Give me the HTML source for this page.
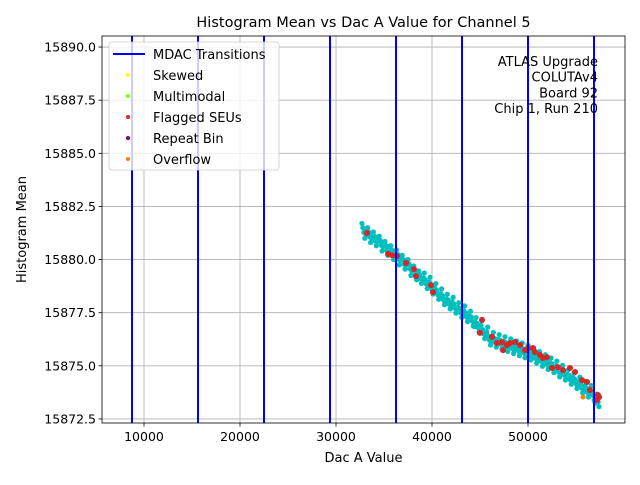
<!DOCTYPE html>
<html><head><meta charset="utf-8"><style>
body{margin:0;background:#fff;font-family:"Liberation Sans","DejaVu Sans",sans-serif}
svg text{font-family:"DejaVu Sans","Liberation Sans",sans-serif}
</style></head><body>
<svg id="c" width="640" height="480" xmlns="http://www.w3.org/2000/svg"></svg>
<script>
const xTicks=[10000,20000,30000,40000,50000];
const yTicks=[15872.5,15875.0,15877.5,15880.0,15882.5,15885.0,15887.5,15890.0];
const mdacX=[8750,15625,22500,29375,36250,43125,50000,56875];
const cyanX=[32800,33100,33400,33700,34000,34300,34600,34900,35200,35500,35800,36100,36400,36700,37000,37300,37600,37900,38200,38500,38800,39100,39400,39700,40000,40300,40600,40900,41200,41500,41800,42100,42400,42700,43000,43300,43600,43900,44200,44500,44800,45100,45400,45700,46000,46300,46600,46900,47200,47500,47800,48100,48400,48700,49000,49300,49600,49900,50200,50500,50800,51100,51400,51700,52000,52300,52600,52900,53200,53500,53800,54100,54400,54700,55000,55300,55600,55900,56200,56500,56800,57100,57300];
const cyanY=[15881.5,15881.2,15881.3,15881.0,15881.1,15880.85,15880.9,15880.6,15880.65,15880.4,15880.45,15880.2,15880.25,15879.95,15880.0,15879.75,15879.8,15879.45,15879.5,15879.25,15879.1,15879.15,15878.85,15878.95,15878.6,15878.65,15878.35,15878.4,15878.1,15878.15,15877.9,15878.0,15877.7,15877.75,15877.5,15877.6,15877.3,15877.35,15877.1,15877.05,15876.8,15876.9,15876.5,15876.6,15876.2,15876.35,15876.1,15876.25,15876.0,15876.15,15875.9,15876.05,15875.8,15875.95,15875.7,15875.85,15875.6,15875.75,15875.5,15875.6,15875.35,15875.45,15875.2,15875.3,15875.05,15875.15,15874.9,15875.0,15874.7,15874.8,15874.55,15874.6,15874.35,15874.45,15874.15,15874.25,15873.95,15874.05,15873.75,15873.85,15873.6,15873.45,15873.3];
const redX=[33230,35420,35830,36350,37290,38125,38330,39900,40100,45210,45000,46250,46770,47290,47400,47810,48125,48650,49170,49690,50000,50520,50730,51250,51980,51560,52500,53125,53650,54375,54900,55625,56150,56460,57290,57400,57190];
const redY=[15881.25,15880.26,15880.21,15880.16,15879.84,15879.55,15879.22,15878.8,15878.47,15877.16,15876.55,15876.36,15876.07,15876.12,15875.74,15875.98,15876.07,15876.12,15875.98,15875.74,15875.84,15875.84,15875.65,15875.51,15875.41,15875.37,15874.9,15874.94,15874.8,15874.9,15874.71,15874.33,15874.24,15873.86,15873.63,15873.53,15873.39];
const orangeX=[55730];
const orangeY=[15873.53];
const L=102,R=625,T=36,B=423;
const x0=5625,x1=60104,y0=15872.31,y1=15890.52;
const sx=v=>L+(v-x0)/(x1-x0)*(R-L);
const sy=v=>B-(v-y0)/(y1-y0)*(B-T);
const svg=document.getElementById('c');
const NS='http://www.w3.org/2000/svg';
function mk(tag,attrs,txt){const e=document.createElementNS(NS,tag);for(const k in attrs)e.setAttribute(k,attrs[k]);if(txt!==undefined)e.textContent=txt;svg.appendChild(e);return e;}
xTicks.forEach(v=>{const g=mk('line',{x1:sx(v),x2:sx(v),y1:T,y2:B,stroke:'#b0b0b0','stroke-width':0.8});


const t=mk('line',{x1:sx(v),x2:sx(v),y1:B,y2:B+3.5,stroke:'#000','stroke-width':0.8});


const l=mk('text',{x:sx(v),y:B+18,'font-size':12.5,'text-anchor':'middle'},String(v));

});
yTicks.forEach(v=>{const g=mk('line',{x1:L,x2:R,y1:sy(v),y2:sy(v),stroke:'#b0b0b0','stroke-width':0.8});


const t=mk('line',{x1:L-3.5,x2:L,y1:sy(v),y2:sy(v),stroke:'#000','stroke-width':0.8});


const l=mk('text',{x:L-6,y:sy(v)+4.5,'font-size':12.5,'text-anchor':'end'},v.toFixed(1));

});
cyanX.forEach((v,i)=>{const s=(i%2?1:-1);
const c=mk('circle',{cx:sx(v),cy:sy(cyanY[i]),r:2.6,fill:'#00bfbf'});


const c2=mk('circle',{cx:sx(v+100),cy:sy(cyanY[i]+0.22*s),r:2.6,fill:'#00bfbf'});


const c3=mk('circle',{cx:sx(v-100),cy:sy(cyanY[i]-0.2*s),r:2.6,fill:'#00bfbf'});

});
redX.forEach((v,i)=>{const c=mk('circle',{cx:sx(v),cy:sy(redY[i]),r:3,fill:'#d62728'});

});
orangeX.forEach((v,i)=>{const c=mk('circle',{cx:sx(v),cy:sy(orangeY[i]),r:2.5,fill:'#ff7f0e'});

});
mdacX.forEach(v=>{const l=mk('line',{x1:sx(v),x2:sx(v),y1:T,y2:B,stroke:'#0000ff','stroke-width':2});

});
const fr=mk('rect',{x:L,y:T,width:R-L,height:B-T,fill:'none',stroke:'#000','stroke-width':0.8});


const ti=mk('text',{x:(L+R)/2,y:27,'font-size':14.5,'text-anchor':'middle'},'Histogram Mean vs Dac A Value for Channel 5');


const xt=mk('text',{x:(L+R)/2,y:462,'font-size':13,'text-anchor':'middle'},'Dac A Value');


const yt=mk('text',{x:26,y:(T+B)/2,'font-size':13,'text-anchor':'middle',transform:'rotate(-90 26 '+((T+B)/2)+')'},'Histogram Mean');


['ATLAS Upgrade','COLUTAv4','Board 92','Chip 1, Run 210'].forEach((s,i)=>{const a=mk('text',{x:598,y:66+i*15.7,'font-size':13,'text-anchor':'end'},s);

});
const lg=mk('rect',{x:109,y:42,width:170,height:128,rx:3,fill:'#fff','fill-opacity':0.8,stroke:'#ccc','stroke-width':0.8});


const ll=mk('line',{x1:113,x2:145,y1:54,y2:54,stroke:'#0000ff','stroke-width':2});


const lt=mk('text',{x:153,y:59,'font-size':13},'MDAC Transitions');


[['Skewed','#ffff00'],['Multimodal','#7fff00'],['Flagged SEUs','#d62728'],['Repeat Bin','#800080'],['Overflow','#ff7f0e']].forEach((e,i)=>{const y=75+i*21;
const d=mk('circle',{cx:128,cy:y,r:2,fill:e[1]});


const t=mk('text',{x:153,y:y+5,'font-size':13},e[0]);

});
</script>
</body></html>
